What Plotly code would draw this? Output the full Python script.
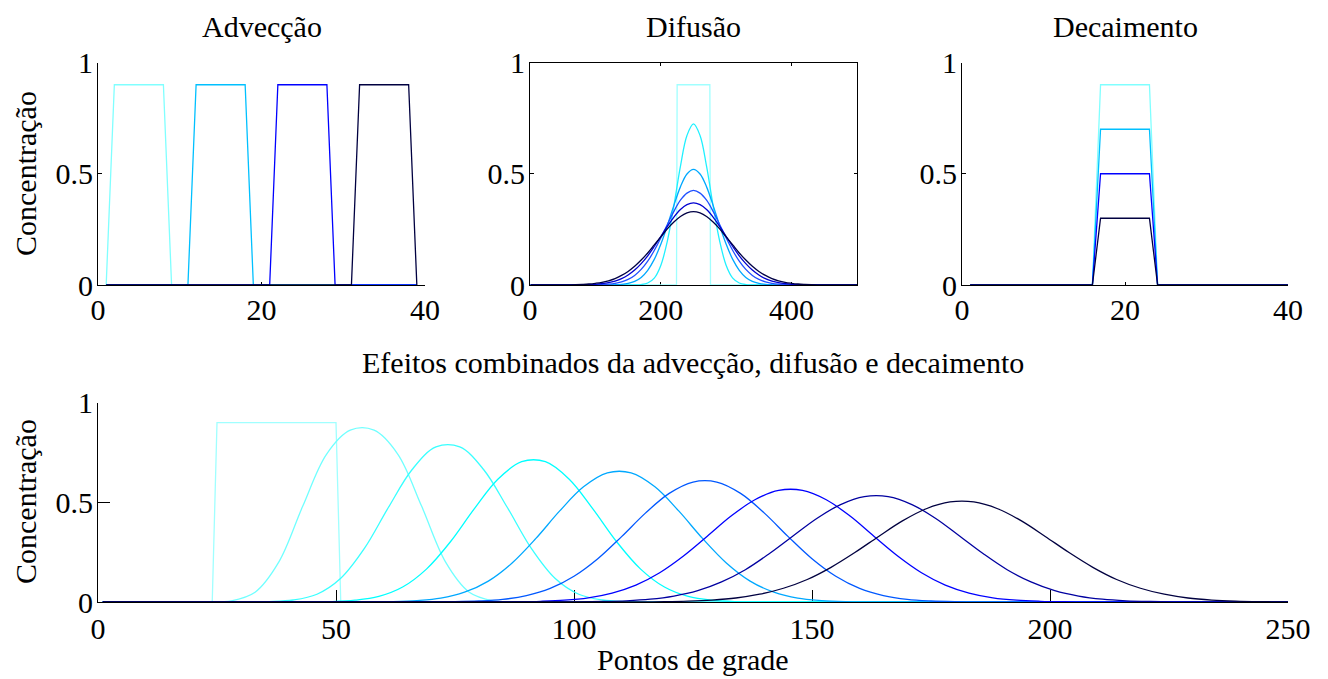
import plotly.graph_objects as go

# ---------------- data ----------------
# Advecção (grid points 1..39)
adv1_x = [1, 2, 8, 9, 39]
adv1_y = [0, 0.9, 0.9, 0, 0]
adv2_x = [1, 11, 12, 18, 19, 39]
adv2_y = [0, 0, 0.9, 0.9, 0, 0]
adv3_x = [1, 21, 22, 28, 29, 39]
adv3_y = [0, 0, 0.9, 0.9, 0, 0]
adv4_x = [1, 31, 32, 38, 39]
adv4_y = [0, 0, 0.9, 0.9, 0]

# Decaimento (grid points 1..40)
dec_x = [1, 16, 17, 23, 24, 40]
dec1_y = [0, 0, 0.9, 0.9, 0, 0]
dec2_y = [0, 0, 0.7, 0.7, 0, 0]
dec3_y = [0, 0, 0.5, 0.5, 0, 0]
dec4_y = [0, 0, 0.3, 0.3, 0, 0]

# Difusão (grid points 1..500)
dif0_x = [1, 224, 225, 275, 276, 500]
dif0_y = [0, 0, 0.9, 0.9, 0, 0]
dif_x = [1, 40, 50, 60, 70, 80, 90, 100, 110, 120, 130, 140, 150, 160, 170, 180, 190,
         200, 210, 220, 230, 240, 250, 260, 270, 280, 290, 300, 310, 320, 330, 340,
         350, 360, 370, 380, 390, 400, 410, 420, 430, 440, 450, 460, 500]
dif1_y = [0, 0, 0, 0, 0, 0, 0, 0, 0, 0, 0, 0, 0, 0.0004, 0.002, 0.009, 0.031, 0.088,
          0.197, 0.356, 0.533, 0.672, 0.724, 0.672, 0.533, 0.356, 0.197, 0.088, 0.031,
          0.009, 0.002, 0.0004, 0, 0, 0, 0, 0, 0, 0, 0, 0, 0, 0, 0, 0]
dif2_y = [0, 0, 0, 0, 0, 0, 0, 0, 0.0001, 0.0003, 0.001, 0.0028, 0.0072, 0.0165, 0.034,
          0.066, 0.115, 0.183, 0.267, 0.358, 0.441, 0.499, 0.52, 0.499, 0.441, 0.358,
          0.267, 0.183, 0.115, 0.066, 0.034, 0.0165, 0.0072, 0.0028, 0.001, 0.0003,
          0.0001, 0, 0, 0, 0, 0, 0, 0, 0]
dif3_y = [0, 0, 0, 0, 0, 0.0001, 0.0003, 0.0007, 0.0017, 0.0036, 0.0072, 0.0139, 0.025,
          0.043, 0.07, 0.107, 0.155, 0.211, 0.272, 0.331, 0.381, 0.413, 0.425, 0.413,
          0.381, 0.331, 0.272, 0.211, 0.155, 0.107, 0.07, 0.043, 0.025, 0.0139, 0.0072,
          0.0036, 0.0017, 0.0007, 0.0003, 0.0001, 0, 0, 0, 0, 0]
dif4_y = [0, 0, 0.0001, 0.0002, 0.0004, 0.0008, 0.0017, 0.0032, 0.006, 0.0104, 0.0176,
          0.0285, 0.0447, 0.067, 0.096, 0.131, 0.173, 0.218, 0.263, 0.305, 0.339, 0.361,
          0.369, 0.361, 0.339, 0.305, 0.263, 0.218, 0.173, 0.131, 0.096, 0.067, 0.0447,
          0.0285, 0.0176, 0.0104, 0.006, 0.0032, 0.0017, 0.0008, 0.0004, 0.0002,
          0.0001, 0, 0]
dif5_y = [0, 0.0001, 0.0003, 0.0007, 0.0014, 0.0026, 0.0045, 0.0077, 0.012, 0.019, 0.029,
          0.043, 0.061, 0.084, 0.112, 0.144, 0.18, 0.216, 0.252, 0.283, 0.308, 0.324,
          0.33, 0.324, 0.308, 0.283, 0.252, 0.216, 0.18, 0.144, 0.112, 0.084, 0.061,
          0.043, 0.029, 0.019, 0.012, 0.0077, 0.0045, 0.0026, 0.0014, 0.0007, 0.0003,
          0.0001, 0]

# Efeitos combinados (grid points 1..250)
comb0_x = [1, 24, 25, 50, 51, 250]
comb0_y = [0, 0, 0.9, 0.9, 0, 0]
comb1_x = [1, 18, 23, 28, 33, 38, 43, 48, 53, 58, 63, 68, 73, 78, 83, 88, 93, 250]
comb1_y = [0, 0, 0.0004, 0.006, 0.049, 0.201, 0.48, 0.741, 0.862, 0.862, 0.741, 0.48,
           0.201, 0.049, 0.006, 0.0004, 0, 0]
comb2_x = [1, 26, 31, 36, 41, 46, 51, 56, 61, 66, 71, 76, 81, 86, 91, 96, 101, 106, 111,
           116, 121, 250]
comb2_y = [0, 0, 0.0002, 0.002, 0.01, 0.039, 0.119, 0.27, 0.474, 0.665, 0.778, 0.778,
           0.665, 0.474, 0.27, 0.119, 0.039, 0.01, 0.002, 0.0002, 0, 0]
comb3_x = [1, 39, 44, 49, 54, 59, 64, 69, 74, 79, 84, 89, 94, 99, 104, 109, 114, 119, 124,
           129, 134, 139, 144, 250]
comb3_y = [0, 0, 0.0004, 0.002, 0.009, 0.028, 0.075, 0.165, 0.301, 0.466, 0.616, 0.704,
           0.704, 0.616, 0.466, 0.301, 0.165, 0.075, 0.028, 0.009, 0.002, 0.0004, 0, 0]
comb4_x = [1, 52, 57, 62, 67, 72, 77, 82, 87, 92, 97, 102, 107, 112, 117, 122, 127, 132,
           137, 142, 147, 152, 157, 162, 167, 250]
comb4_y = [0, 0, 0.0005, 0.002, 0.007, 0.019, 0.049, 0.105, 0.196, 0.319, 0.457, 0.578,
           0.648, 0.648, 0.578, 0.457, 0.319, 0.196, 0.105, 0.049, 0.019, 0.007, 0.002,
           0.0005, 0, 0]
comb5_x = [1, 65, 70, 75, 80, 85, 90, 95, 100, 105, 110, 115, 120, 125, 130, 135, 140,
           145, 150, 155, 160, 165, 170, 175, 180, 185, 190, 250]
comb5_y = [0, 0, 0.0004, 0.0016, 0.005, 0.013, 0.032, 0.068, 0.129, 0.217, 0.328, 0.446,
           0.545, 0.602, 0.602, 0.545, 0.446, 0.328, 0.217, 0.129, 0.068, 0.032, 0.013,
           0.005, 0.0016, 0.0004, 0, 0]
comb6_x = [1, 78, 83, 88, 93, 98, 103, 108, 113, 118, 123, 128, 133, 138, 143, 148, 153,
           158, 163, 168, 173, 178, 183, 188, 193, 198, 203, 208, 213, 250]
comb6_y = [0, 0, 0.0004, 0.0012, 0.0036, 0.009, 0.021, 0.045, 0.085, 0.147, 0.231, 0.33,
           0.431, 0.513, 0.56, 0.56, 0.513, 0.431, 0.33, 0.231, 0.147, 0.085, 0.045,
           0.021, 0.009, 0.0036, 0.0012, 0.0004, 0, 0]
comb7_x = [1, 91, 96, 101, 106, 111, 116, 121, 126, 131, 136, 141, 146, 151, 156, 161,
           166, 171, 176, 181, 186, 191, 196, 201, 206, 211, 216, 221, 226, 231, 236, 250]
comb7_y = [0, 0, 0.0003, 0.0009, 0.0025, 0.006, 0.014, 0.03, 0.057, 0.101, 0.162, 0.242,
           0.331, 0.419, 0.489, 0.529, 0.529, 0.489, 0.419, 0.331, 0.242, 0.162, 0.101,
           0.057, 0.03, 0.014, 0.006, 0.0025, 0.0009, 0.0003, 0, 0]
comb8_x = [1, 109, 114, 119, 124, 129, 134, 139, 144, 149, 154, 159, 164, 169, 174, 179,
           184, 189, 194, 199, 204, 209, 214, 219, 224, 229, 234, 239, 244, 249, 250]
comb8_y = [0, 0.0002, 0.0006, 0.0017, 0.0043, 0.0098, 0.02, 0.039, 0.069, 0.113, 0.174,
           0.248, 0.329, 0.407, 0.468, 0.502, 0.502, 0.468, 0.407, 0.329, 0.248, 0.174,
           0.113, 0.069, 0.039, 0.02, 0.0098, 0.0043, 0.0017, 0.0006, 0.0005]

# tick labels
y_ticks = [0, 0.5, 1]
y_ticktext = ["0", "0.5", "1"]
adv_ticks = [0, 20, 40]
dif_ticks = [0, 200, 400]
comb_ticks = [0, 50, 100, 150, 200, 250]

titles = ["Advecção", "Difusão", "Decaimento"]
comb_title = "Efeitos combinados da advecção, difusão e decaimento"
x_label = "Pontos de grade"
y_label = "Concentração"

# colours
c4 = ["#80ffff", "#00c0ff", "#0000ff", "#000040"]
c6 = ["#a0ffff", "#20f0ff", "#00a8ff", "#2050ff", "#0000d0", "#000045"]
c9 = ["#a0ffff", "#70ffff", "#38ffff", "#00ffff", "#00a8ff", "#0058ff", "#0000ff",
      "#0000a0", "#000040"]

FONT = dict(family="Liberation Serif", size=30, color="black")
LW = 1.3

fig = go.Figure()


def add(x, y, color, ax, spline=False):
    fig.add_trace(go.Scatter(
        x=x, y=y, mode="lines", xaxis="x" + ax, yaxis="y" + ax,
        line=dict(color=color, width=LW, shape="spline" if spline else "linear",
                  smoothing=1.0 if spline else None),
        hoverinfo="skip", showlegend=False))


# panel 1: advection
for (xx, yy), col in zip([(adv1_x, adv1_y), (adv2_x, adv2_y), (adv3_x, adv3_y),
                          (adv4_x, adv4_y)], c4):
    add(xx, yy, col, "")
# panel 2: diffusion
add(dif0_x, dif0_y, c6[0], "2")
for yy, col in zip([dif1_y, dif2_y, dif3_y, dif4_y, dif5_y], c6[1:]):
    add(dif_x, yy, col, "2", spline=True)
# panel 3: decay
for yy, col in zip([dec1_y, dec2_y, dec3_y, dec4_y], c4):
    add(dec_x, yy, col, "3")
# panel 4: combined
add(comb0_x, comb0_y, c9[0], "4")
for (xx, yy), col in zip([(comb1_x, comb1_y), (comb2_x, comb2_y), (comb3_x, comb3_y),
                          (comb4_x, comb4_y), (comb5_x, comb5_y), (comb6_x, comb6_y),
                          (comb7_x, comb7_y), (comb8_x, comb8_y)], c9[1:]):
    add(xx, yy, col, "4", spline=True)

# page body adds an 8px offset; figure sized so it fits the 1328x679 window
OFF = 8
W, H = 1328 - OFF, 679 - OFF


def px(v):
    return (v - OFF) / W


def py(v):
    return 1 - (v - OFF) / H


base = dict(showgrid=False, zeroline=False, showline=True, linecolor="black",
            linewidth=1, ticks="inside", tickcolor="black", tickwidth=1,
            tickfont=FONT, layer="below traces", automargin=False)

top_y = [py(285), py(62.5)]
bot_y = [py(602), py(402.7)]
doms = [[px(98), px(425)], [px(530), px(857)], [px(962), px(1288)]]

layout = dict(width=W, height=H,
              margin=dict(l=0, r=0, t=0, b=0, pad=0, autoexpand=False),
              paper_bgcolor="white", plot_bgcolor="white", showlegend=False)

# top axes
for i, (dom, rng, tv) in enumerate(zip(doms, [[0, 40], [0, 500], [0, 40]],
                                       [adv_ticks, dif_ticks, adv_ticks])):
    s = "" if i == 0 else str(i + 1)
    mirror = "ticks" if i == 1 else False
    layout["xaxis" + s] = dict(base, domain=dom, range=rng, tickvals=tv, ticklen=3.5,
                               anchor="y" + s, mirror=mirror, ticklabelstandoff=-2)
    layout["yaxis" + s] = dict(base, domain=top_y, range=[0, 1], tickvals=y_ticks,
                               ticktext=y_ticktext, ticklen=3.5, anchor="x" + s,
                               mirror=mirror, ticklabelstandoff=-2)
# bottom axes
layout["xaxis4"] = dict(base, domain=[px(98), px(1288)], range=[0, 250],
                        tickvals=comb_ticks, ticklen=12, anchor="y4")
layout["yaxis4"] = dict(base, domain=bot_y, range=[0, 1], tickvals=y_ticks,
                        ticktext=y_ticktext, ticklen=12, anchor="x4",
                        ticklabelstandoff=-2)

ann = []
for t, cx in zip(titles, [261.5, 693.5, 1125]):
    ann.append(dict(text=t, x=px(cx), y=py(26), xref="paper", yref="paper",
                    showarrow=False, font=FONT, xanchor="center", yanchor="middle"))
ann.append(dict(text=comb_title, x=px(693), y=py(362), xref="paper", yref="paper",
                showarrow=False, font=FONT, xanchor="center", yanchor="middle"))
ann.append(dict(text=x_label, x=px(693), y=py(659), xref="paper", yref="paper",
                showarrow=False, font=FONT, xanchor="center", yanchor="middle"))
for cy in [174, 502]:
    ann.append(dict(text=y_label, x=px(25), y=py(cy), xref="paper", yref="paper",
                    showarrow=False, font=FONT, textangle=-90, xanchor="center",
                    yanchor="middle"))
layout["annotations"] = ann

fig.update_layout(**layout)
fig.write_html("out.html")
